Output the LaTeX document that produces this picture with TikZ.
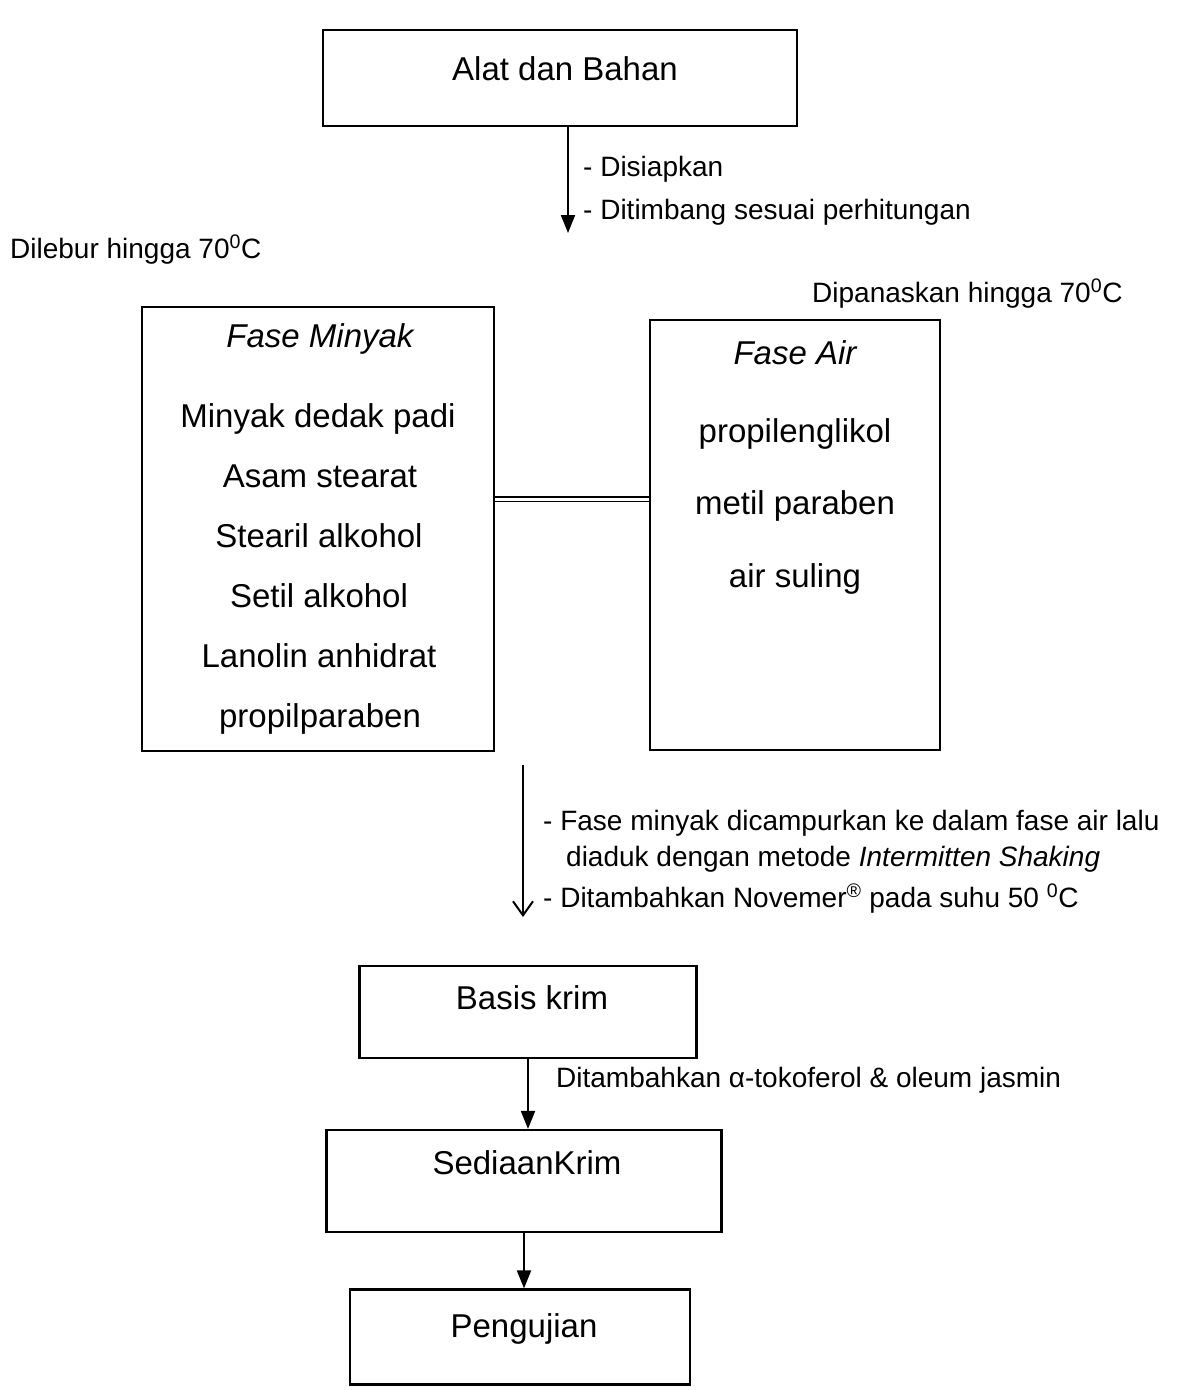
\documentclass[tikz,border=0pt]{standalone}
\usepackage{fontspec}
\setmainfont{Liberation Sans}
\usetikzlibrary{arrows.meta}
\begin{document}
\begin{tikzpicture}[x=1pt,y=-1pt,
  box/.style={draw,line width=2.2pt,inner sep=0pt},
  big/.style={font=\fontsize{33}{40}\selectfont,anchor=base,inner sep=0pt},
  small/.style={font=\fontsize{28}{34}\selectfont,anchor=base west,inner sep=0pt},
  arr/.style={line width=2pt,-{Triangle[length=18pt,width=14pt]}},
  openarr/.style={line width=2pt,-{Straight Barb[length=14pt,width=20pt,line width=2pt]}},
  dbl/.style={double,double distance=3pt,line width=1.6pt}
]
\useasboundingbox (0,0) rectangle (1188,1390);

% Top box
\node[box,minimum width=474pt,minimum height=96pt] (A) at (560,78) {};
\node[big] (Atext) at (565,80) {Alat dan Bahan};

\coordinate (a1) at (568,233);
\draw[arr] (A.south -| a1) -- (a1);
\node[small] (l1) at (583,176) {- Disiapkan};
\node[small] (l2) at (583,219) {- Ditimbang sesuai perhitungan};

\node[small] (dil) at (10,258) {Dilebur hingga 70\textsuperscript{0}C};
\node[small] (dip) at (812,302) {Dipanaskan hingga 70\textsuperscript{0}C};

% Left box
\node[box,minimum width=352pt,minimum height=444pt] (L) at (318,529) {};
\node[big,font=\fontsize{33}{40}\selectfont\itshape] (Lh) at (320,347) {Fase Minyak};
\node[big] (L1) at (318,427) {Minyak dedak padi};
\node[big] (L2) at (320,487) {Asam stearat};
\node[big] (L3) at (319,547) {Stearil alkohol};
\node[big] (L4) at (319,607) {Setil alkohol};
\node[big] (L5) at (319,667) {Lanolin anhidrat};
\node[big] (L6) at (320,727) {propilparaben};

% Right box
\node[box,minimum width=290pt,minimum height=430pt] (R) at (795,535) {};
\node[big,font=\fontsize{33}{40}\selectfont\itshape] (Rh) at (795,364) {Fase Air};
\node[big] (R1) at (795,442) {propilenglikol};
\node[big] (R2) at (795,514) {metil paraben};
\node[big] (R3) at (795,587) {air suling};

\draw[dbl] (L.east |- 0,499) -- (R.west |- 0,499);

% Middle arrow
\coordinate (m1) at (523,765);
\coordinate (m2) at (523,917);
\draw[openarr] (m1) -- (m2);
\node[small] (t1) at (543,830) {- Fase minyak dicampurkan ke dalam fase air lalu};
\node[small] (t2) at (566,866) {diaduk dengan metode \textit{Intermitten Shaking}};
\node[small] (t3) at (543,907) {- Ditambahkan Novemer\textsuperscript{®} pada suhu 50 \textsuperscript{0}C};

% Basis krim
\node[box,minimum width=337pt,minimum height=92pt] (B) at (528,1012) {};
\node[big] (Bt) at (532,1009) {Basis krim};

% Sediaan krim
\node[box,minimum width=395pt,minimum height=102pt] (S) at (524,1181) {};
\node[big] (St) at (527,1174) {SediaanKrim};
\draw[arr] (B.south) -- (B.south |- S.north);
\node[small] (ta) at (556,1087) {Ditambahkan α-tokoferol \& oleum jasmin};

% Pengujian
\node[box,minimum width=340pt,minimum height=95pt] (P) at (520,1337) {};
\node[big] (Pt) at (524,1337) {Pengujian};
\draw[arr] (S.south) -- (S.south |- P.north);
\end{tikzpicture}
\end{document}
